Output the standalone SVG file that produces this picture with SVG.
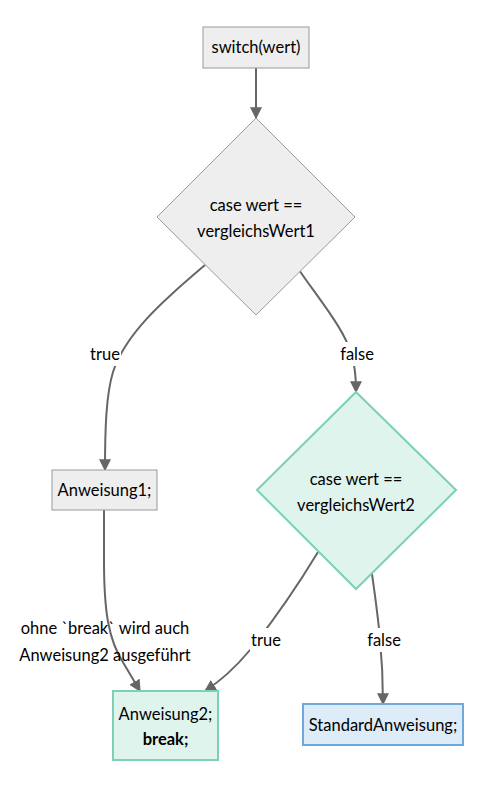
<svg xmlns="http://www.w3.org/2000/svg" width="502" height="785" viewBox="0 0 502 785">
<defs>
<marker id="arr" viewBox="0 0 10 10" refX="9" refY="5" markerWidth="12" markerHeight="12" markerUnits="userSpaceOnUse" orient="auto">
<path d="M0,0 L10,5 L0,10 z" fill="#666"/>
</marker>
<style>
text{font-family:"Lato","Open Sans","DejaVu Sans",sans-serif;font-size:16.5px;fill:#000;text-anchor:middle;dominant-baseline:central}
.gray{fill:#eeeeee;stroke:#999;stroke-width:1}
.teal{fill:#e0f4ee;stroke:#7dd0b6;stroke-width:2}
.blue{fill:#deecf9;stroke:#6fa8dc;stroke-width:2}
.edge{fill:none;stroke:#666;stroke-width:2;marker-end:url(#arr)}
.lbg{fill:#fff}
</style>
</defs>
<rect width="502" height="785" fill="#fff"/>
<g id="connectors">
<path class="edge" d="M256,68 L256,118"/>
<path class="edge" d="M205,265 C160,303 125,335 113,372 C106,395 105,430 105,470"/>
<path class="edge" d="M299,270 C320,300 340,325 348,345 C354,360 356,372 356,392"/>
<path class="edge" d="M104,510 L104,560 C104,610 108,640 124,664 L140,691"/>
<path class="edge" d="M318,552 C295,590 270,625 250,650 C235,668 222,680 205,691"/>
<path class="edge" d="M372,574 C377,610 383,650 383,704"/>
</g>
<g id="labels">
<rect class="lbg" x="89" y="342" width="32" height="24"/>
<text x="105" y="354">true</text>
<rect class="lbg" x="339" y="342" width="36" height="24"/>
<text x="357" y="354">false</text>
<rect class="lbg" x="250" y="628" width="32" height="24"/>
<text x="266" y="640">true</text>
<rect class="lbg" x="366" y="628" width="36" height="24"/>
<text x="384" y="640">false</text>
<text x="105" y="628">ohne `break` wird auch</text>
<text x="105" y="655">Anweisung2 ausgeführt</text>
</g>
<g id="switch">
<rect class="gray" x="203" y="27" width="106" height="41"/>
<text x="256" y="47">switch(wert)</text>
</g>
<g id="case1">
<polygon class="gray" points="256,118 355,217 256,315 157,217"/>
<text x="256" y="205">case wert ==</text>
<text x="256" y="231">vergleichsWert1</text>
</g>
<g id="case2">
<polygon class="teal" points="356,392 456,490 356,589 257,490"/>
<text x="356" y="479">case wert ==</text>
<text x="356" y="505">vergleichsWert2</text>
</g>
<g id="anweisung1">
<rect class="gray" x="52" y="470" width="105" height="40"/>
<text x="104.5" y="490">Anweisung1;</text>
</g>
<g id="anweisung2">
<rect class="teal" x="113" y="691" width="105" height="69"/>
<text x="165.5" y="714">Anweisung2;</text>
<text x="165.5" y="739" font-weight="bold">break;</text>
</g>
<g id="standard">
<rect class="blue" x="303" y="704" width="160" height="41"/>
<text x="383" y="724.5">StandardAnweisung;</text>
</g>
</svg>
